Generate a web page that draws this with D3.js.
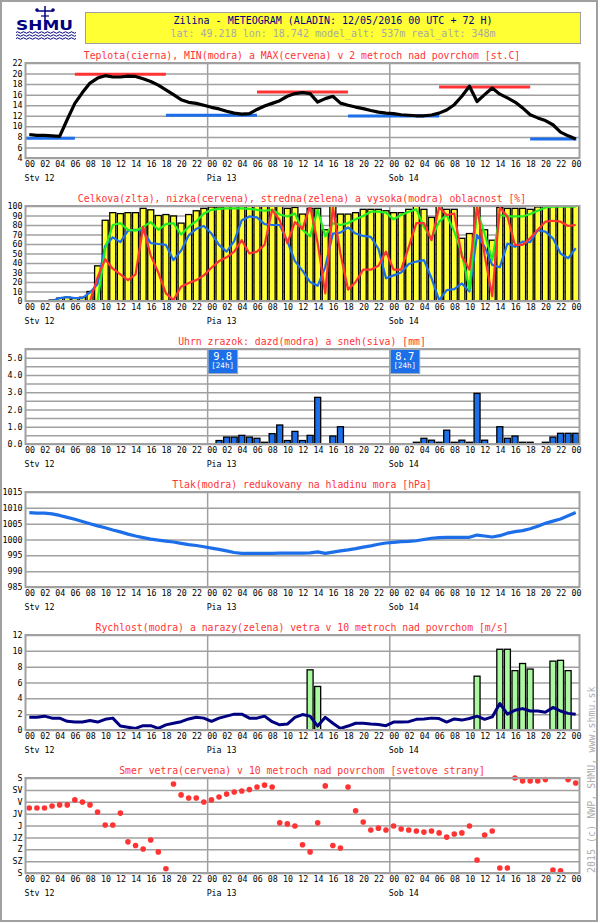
<!DOCTYPE html>
<html>
<head>
<meta charset="utf-8">
<script src="https://cdn.jsdelivr.net/npm/d3@7"></script>
<style>
  body { margin: 0; background: #fff; }
  text { font-family: "DejaVu Sans Mono", monospace; }
</style>
</head>
<body>
<div id="meteogram"></div>
<script>
// DATA
// ------------------------------------------------------------------

// hourly steps 0..72 from 12/05/2016 00 UTC
var hours = d3.range(73);
var hourTicks = d3.range(0, 73, 2);
var dayStarts = [0, 24, 48];
var dayLabels = ["Stv 12", "Pia 13", "Sob 14"];

var temperature = [8.45, 8.3, 8.3, 8.2, 8.1, 11.3, 14.35, 16.4, 18.2, 19.15,
  19.6, 19.35, 19.35, 19.5, 19.45, 19.0, 18.5, 17.8, 16.9, 16.0,
  15.05, 14.55, 14.35, 14.0, 13.6, 13.3, 12.85, 12.5, 12.3, 12.4,
  13.2, 13.85, 14.35, 14.85, 15.7, 16.2, 16.4, 16.2, 14.6, 15.25,
  15.7, 14.4, 14.0, 13.65, 13.35, 13.0, 12.7, 12.5, 12.4, 12.2,
  12.1, 12.0, 12.0, 12.15, 12.5, 13.1, 14.1, 15.7, 17.6, 14.7,
  16.0, 17.25, 16.1, 15.4, 14.6, 13.5, 12.2, 11.6, 11.1, 10.3,
  8.9, 8.2, 7.6];
var tMinPeriods = [[0, 6.5], [18.5, 30.5], [42.5, 54.5], [66.5, 72.6]];
var tMinValues = [7.75, 12.1, 11.95, 7.6];
var tMaxPeriods = [[6.5, 18.5], [30.5, 42.5], [54.5, 66.5]];
var tMaxValues = [19.85, 16.5, 17.45];

var cloudTotal = [0, 0, 0, 1, 3, 4, 3, 4, 10, 37,
  85, 93, 92, 93, 93, 97.5, 96, 90, 91, 89.5,
  82, 91, 95, 97.5, 99, 99, 100, 100, 100, 100,
  100, 100, 100, 100, 97.5, 98.5, 91.5, 97.5, 97.5, 75,
  100, 91.5, 91.5, 93, 96.5, 96.5, 96.5, 95, 93, 93,
  96.5, 100, 96.5, 88, 100, 96.5, 96.5, 66, 71, 100,
  75, 64, 98.5, 97.5, 97.5, 97.5, 96.5, 99, 100, 100,
  100, 100, 100];
var cloudLow = [null, null, null, null, null, null, null, null, 0, 25,
  44, 34, 28, 22, 28, 78, 48, 30, 8, 1,
  15, 19, 22, 27, 35, 42, 46, 52, 64, 50,
  52, 59, 96, 85, 61, 83, 76, 100, 61, 8,
  99, 50, 12, 20, 33, 33, 37, 52, 33, 33,
  57, 82, 82, 64, 98.5, 90.5, 92, 47, 33, 100,
  48, 5, 98.5, 89, 59, 59, 66, 75, 83.5, 84.5,
  83.5, 79, 80];
var cloudMid = [null, null, null, null, null, null, null, null, null, 0,
  55, 80, 82, 75, 74, 78, 83, 75, 81, 82,
  70, 78, 84, 92, 96, 97, 97.5, 97.5, 97.5, 97,
  96, 95, 96, 91, 89, 92, 75, 68, 96, 68,
  82, 80, 82, 86, 89.5, 94, 94, 93, 86, 90.5,
  94, 96.5, 78, 66, 83.5, 90.5, 73, 50, 12, 96,
  71, 43, 90.5, 89, 89, 89, 91.5, 95, 98.5, 99.3,
  99.3, 99.3, 99.3];
var cloudHigh = [null, null, null, 0, 3, 4, 3, 3, 9, 18,
  58, 67, 62, 74, 75, 74, 61, 60, 59, 43,
  53, 69, 76, 79, 71, 59, 52, 63, 85, 89,
  88, 81, 80, 80, 63, 42, 32, 20, 16, 36,
  71, 72, 77.5, 71, 68.5, 67.5, 55, 24, 27, 30,
  39, 41.5, 43, 24, 1, 11.5, 12.5, 18.5, 10, 69.5,
  57, 38, 35.5, 60.5, 57, 62.5, 62, 74.5, 73, 66,
  50, 45, 55.5];

var rain = [0, 0, 0, 0, 0, 0, 0, 0, 0, 0,
  0, 0, 0, 0, 0, 0, 0, 0, 0, 0,
  0, 0, 0, 0, 0, 0.2, 0.4, 0.4, 0.5, 0.4,
  0.33, 0.1, 0.6, 1.1, 0.2, 0.73, 0.2, 0.5, 2.7, 0,
  0.46, 1.0, 0, 0, 0, 0, 0, 0, 0, 0,
  0, 0.1, 0.33, 0.22, 0.1, 0.8, 0.1, 0.22, 0.1, 2.93,
  0.22, 0, 1.0, 0.33, 0.46, 0.1, 0.1, 0, 0.1, 0.4,
  0.62, 0.62, 0.62];
var rain24Starts = [24, 48];
var rain24Labels = ["9.8", "8.7"];

var pressure = [1008.5, 1008.3, 1008.3, 1008.1, 1007.6, 1007.0, 1006.4, 1005.7, 1005.0, 1004.3,
  1003.7, 1003.0, 1002.4, 1001.7, 1001.1, 1000.6, 1000.1, 999.8, 999.5, 999.2,
  998.8, 998.4, 998.1, 997.7, 997.3, 996.9, 996.4, 995.9, 995.6, 995.6,
  995.6, 995.6, 995.6, 995.7, 995.7, 995.7, 995.7, 995.8, 996.1, 995.6,
  996.0, 996.4, 996.7, 997.1, 997.6, 998.0, 998.5, 998.9, 999.1, 999.3,
  999.4, 999.6, 1000.0, 1000.4, 1000.6, 1000.7, 1000.7, 1000.7, 1000.7, 1001.4,
  1001.1, 1000.8, 1001.2, 1002.0, 1002.5, 1002.8, 1003.4, 1004.2, 1005.1, 1005.8,
  1006.5, 1007.5, 1008.5];

var windSpeed = [1.6, 1.6, 1.75, 1.5, 1.5, 1.1, 1.0, 1.0, 1.2, 1.0,
  1.35, 1.5, 0.5, 0.35, 0.2, 0.55, 0.55, 0.2, 0.65, 0.85,
  1.05, 1.4, 1.6, 1.5, 1.1, 1.5, 1.75, 2.0, 2.0, 1.5,
  1.5, 1.75, 1.05, 0.65, 0.75, 1.6, 1.95, 1.75, 0.5, 1.6,
  0.85, 0.2, 0.5, 0.85, 0.85, 0.75, 0.7, 0.55, 1.0, 1.0,
  1.05, 1.35, 1.4, 1.5, 1.45, 1.0, 1.4, 1.25, 1.45, 1.75,
  1.35, 1.65, 3.35, 2.0, 2.5, 2.7, 2.4, 2.4, 2.25, 2.85,
  2.4, 2.1, 2.0];
var gustHours = [37, 38, 59, 62, 63, 64, 65, 66, 69, 70, 71];
var gustValues = [7.6, 5.5, 6.8, 10.2, 10.2, 7.5, 8.4, 7.7, 8.7, 8.8, 7.5];

var windDir = [113.7, 113.7, 113.7, 106, 102, 102, 83, 91, 102, 129,
  178, 178, 133, 242, 256, 269, 235, 280, 344, 23,
  64, 76, 76, 91, 83, 72, 61, 53, 49, 44,
  34, 27, 34, 170, 174, 182, 253, 280, 170, 30,
  256, 265, 34, 124, 167, 197, 190, 197, 182, 193,
  197, 201, 205, 201, 208, 224, 212, 208, 182, 311,
  216, 201, 341, 341, 0, 11, 11, 11, 6, 349,
  352, 6, 19];
var dirTicks = [0, 45, 90, 135, 180, 225, 270, 315, 360];
var dirLabels = ["S", "SV", "V", "JV", "J", "JZ", "Z", "SZ", "S"];

var titles = [
  "Teplota(cierna), MIN(modra) a MAX(cervena) v 2 metroch nad povrchom [st.C]",
  "Celkova(zlta), nizka(cervena), stredna(zelena) a vysoka(modra) oblacnost [%]",
  "Uhrn zrazok: dazd(modra) a sneh(siva) [mm]",
  "Tlak(modra) redukovany na hladinu mora [hPa]",
  "Rychlost(modra) a narazy(zelena) vetra v 10 metroch nad povrchom [m/s]",
  "Smer vetra(cervena) v 10 metroch nad povrchom [svetove strany]"
];

// CANVAS
// ------------------------------------------------------------------

var width = 600,
    height = 923,
    plotH = 95;

var RED = "#ff3333", BLUE = "#1c6fe8", GREEN = "#22ee22",
    YELLOW = "#ffff33", NAVY = "#000080", GRID = "#a0a0a0";

var svg = d3.select("#meteogram")
    .append("svg")
    .attr("width", width)
    .attr("height", height);

svg.append("rect")
    .attr("x", 1).attr("y", 1)
    .attr("width", 596).attr("height", 920)
    .attr("fill", "none")
    .attr("stroke", GRID)
    .attr("stroke-width", 2);

var x = d3.scaleLinear()
    .domain([0, 73])
    .range([25.5, 579.5]);
var stepW = x(1) - x(0);

// HEADER
// ------------------------------------------------------------------

var logo = svg.append("g").attr("fill", NAVY).attr("stroke", NAVY);
logo.append("line").attr("x1", 45).attr("y1", 6).attr("x2", 45).attr("y2", 21).attr("stroke-width", 1.5);
logo.append("line").attr("x1", 37).attr("y1", 11).attr("x2", 53).attr("y2", 11).attr("stroke-width", 1.5);
logo.append("line").attr("x1", 41).attr("y1", 16).attr("x2", 49).attr("y2", 16).attr("stroke-width", 1.2);
logo.append("circle").attr("cx", 37).attr("cy", 10).attr("r", 1.8).attr("stroke", "none");
logo.append("circle").attr("cx", 53).attr("cy", 10).attr("r", 1.8).attr("stroke", "none");
logo.append("text")
    .attr("x", 16).attr("y", 30)
    .attr("stroke", "none")
    .style("font-family", "DejaVu Sans")
    .style("font-weight", "bold")
    .style("font-size", "14px")
    .attr("textLength", 57)
    .attr("lengthAdjust", "spacingAndGlyphs")
    .text("SHMU");
[32.5, 35.5, 38.5].forEach(function(wy) {
  var d = "M16," + wy;
  for (var wx = 16; wx < 72; wx += 6) d += " q1.5,-1.5 3,0 t3,0";
  logo.append("path").attr("d", d).attr("fill", "none").attr("stroke-width", 1);
});

svg.append("rect")
    .attr("x", 85.5).attr("y", 12.5)
    .attr("width", 495).attr("height", 31)
    .attr("fill", YELLOW)
    .attr("stroke", GRID);
svg.append("text")
    .attr("x", 333).attr("y", 24)
    .attr("text-anchor", "middle")
    .attr("fill", NAVY)
    .style("font-size", "10px")
    .text("Zilina - METEOGRAM (ALADIN: 12/05/2016 00 UTC + 72 H)");
svg.append("text")
    .attr("x", 333).attr("y", 37)
    .attr("text-anchor", "middle")
    .attr("fill", "#a8a8a8")
    .style("font-size", "10px")
    .text("lat: 49.218  lon: 18.742  model_alt: 537m  real_alt: 348m");

svg.append("text")
    .attr("transform", "translate(595,873) rotate(-90)")
    .attr("fill", "#b0b0b0")
    .style("font-size", "10px")
    .text("2015 (c) NWP, SHMU, www.shmu.sk");

// PANELS
// ------------------------------------------------------------------

function makePanel(top, domain, gridVals, labelVals, labelFmt, title) {
  var g = svg.append("g");
  var bottom = top + plotH;
  var y = d3.scaleLinear().domain(domain).range([bottom, top]);

  g.append("g")
      .attr("transform", "translate(" + x(0) + ",0)")
      .call(d3.axisLeft(y).tickValues(gridVals).tickSize(-(x(73) - x(0))).tickFormat(""))
      .call(function(s) {
        s.select(".domain").remove();
        s.selectAll("line").attr("stroke", GRID).attr("stroke-width", 1.5);
      });

  g.selectAll(".day")
      .data(dayStarts.slice(1))
      .enter().append("line")
      .attr("x1", function(d) { return x(d); })
      .attr("x2", function(d) { return x(d); })
      .attr("y1", top).attr("y2", bottom)
      .attr("stroke", GRID).attr("stroke-width", 1.5);

  g.append("g")
      .attr("transform", "translate(" + (x(0) - 3) + ",0)")
      .call(d3.axisLeft(y).tickValues(labelVals).tickSize(0).tickPadding(0).tickFormat(labelFmt))
      .call(function(s) {
        s.select(".domain").remove();
        s.selectAll("text").attr("fill", "#000")
          .style("font-family", "DejaVu Sans Mono").style("font-size", "8.3px");
      });

  g.append("g")
      .attr("transform", "translate(0," + (bottom + 3) + ")")
      .call(d3.axisBottom(x).tickValues(hourTicks).tickSize(0).tickPadding(0)
        .tickFormat(function(d) { return d3.format("02d")(d % 24); }))
      .call(function(s) {
        s.select(".domain").remove();
        s.selectAll("text").attr("fill", "#000").attr("text-anchor", "start")
          .attr("dx", -1).attr("dy", "0.72em")
          .style("font-family", "DejaVu Sans Mono").style("font-size", "8.3px");
      });

  g.selectAll(".daylabel")
      .data(dayStarts)
      .enter().append("text")
      .attr("x", function(d) { return x(d) - 1; })
      .attr("y", bottom + 23)
      .style("font-size", "8.3px")
      .text(function(d, i) { return dayLabels[i]; });

  svg.append("text")
      .attr("x", 302).attr("y", top - 4.5)
      .attr("text-anchor", "middle")
      .attr("fill", RED)
      .style("font-size", "9.8px")
      .text(title);

  var layer = svg.append("g");
  var frame = function() {
    svg.append("rect")
        .attr("x", x(0)).attr("y", top)
        .attr("width", x(73) - x(0)).attr("height", plotH)
        .attr("fill", "none")
        .attr("stroke", GRID).attr("stroke-width", 2);
  };
  return { y: y, g: layer, frame: frame, top: top, bottom: bottom };
}

function hourLine(y) {
  return d3.line()
      .defined(function(d) { return d != null; })
      .x(function(d, i) { return x(i + 0.5); })
      .y(function(d) { return y(d); });
}

function hourBars(p, values, fill) {
  values.forEach(function(d, i) {
    if (!(d > 0)) return;
    p.g.append("rect")
        .attr("x", x(i) + 0.8)
        .attr("width", stepW - 1.6)
        .attr("y", p.y(d))
        .attr("height", p.bottom - p.y(d))
        .attr("fill", fill).attr("stroke", "#000").attr("stroke-width", 1.3);
  });
}

// TEMPERATURE
var p1 = makePanel(63, [4, 22], d3.range(4, 23, 2), d3.range(4, 23, 2), d3.format("d"), titles[0]);
p1.g.selectAll(".tmax").data(tMaxValues).enter().append("line")
    .attr("x1", function(d, i) { return x(tMaxPeriods[i][0]); })
    .attr("x2", function(d, i) { return x(tMaxPeriods[i][1]); })
    .attr("y1", function(d) { return p1.y(d); })
    .attr("y2", function(d) { return p1.y(d); })
    .attr("stroke", RED).attr("stroke-width", 3);
p1.g.selectAll(".tmin").data(tMinValues).enter().append("line")
    .attr("x1", function(d, i) { return x(tMinPeriods[i][0]); })
    .attr("x2", function(d, i) { return x(tMinPeriods[i][1]); })
    .attr("y1", function(d) { return p1.y(d); })
    .attr("y2", function(d) { return p1.y(d); })
    .attr("stroke", BLUE).attr("stroke-width", 3);
p1.g.append("path")
    .attr("d", hourLine(p1.y)(temperature))
    .attr("fill", "none").attr("stroke", "#000")
    .attr("stroke-width", 3.2).attr("stroke-linejoin", "round");
p1.frame();

// CLOUDS
var p2 = makePanel(206, [0, 100], d3.range(0, 101, 10), d3.range(0, 101, 10), d3.format("d"), titles[1]);
hourBars(p2, cloudTotal, YELLOW);
[[cloudHigh, BLUE], [cloudMid, GREEN], [cloudLow, RED]].forEach(function(s) {
  p2.g.append("path")
      .attr("d", hourLine(p2.y)(s[0]))
      .attr("fill", "none").attr("stroke", s[1])
      .attr("stroke-width", 2.2).attr("stroke-linejoin", "round");
});
p2.frame();

// PRECIPITATION
var p3 = makePanel(349, [0, 5.5], d3.range(0, 5.6, 0.5), d3.range(0, 5.1, 1), d3.format(".1f"), titles[2]);
hourBars(p3, rain, BLUE);
p3.frame();
rain24Starts.forEach(function(t, i) {
  var bx = x(t);
  svg.append("rect")
      .attr("x", bx + 0.5).attr("y", p3.top + 0.5)
      .attr("width", 29.5).attr("height", 24)
      .attr("fill", BLUE).attr("stroke", "#9ab").attr("stroke-width", 1);
  svg.append("text")
      .attr("x", bx + 15).attr("y", p3.top + 10.5)
      .attr("text-anchor", "middle").attr("fill", "#fff")
      .style("font-size", "10.5px")
      .text(rain24Labels[i]);
  svg.append("text")
      .attr("x", bx + 15).attr("y", p3.top + 18.5)
      .attr("text-anchor", "middle").attr("fill", "#fff")
      .style("font-size", "7.5px")
      .text("[24h]");
});

// PRESSURE
var p4 = makePanel(492, [985, 1015], d3.range(985, 1016, 5), d3.range(985, 1016, 5), d3.format("d"), titles[3]);
p4.g.append("path")
    .attr("d", hourLine(p4.y)(pressure))
    .attr("fill", "none").attr("stroke", BLUE)
    .attr("stroke-width", 3.2).attr("stroke-linejoin", "round");
p4.frame();

// WIND SPEED AND GUSTS
var p5 = makePanel(635, [0, 12], d3.range(0, 13, 2), d3.range(0, 13, 2), d3.format("d"), titles[4]);
p5.g.selectAll(".gust").data(gustValues).enter().append("rect")
    .attr("x", function(d, i) { return x(gustHours[i]) + 0.8; })
    .attr("width", stepW - 1.6)
    .attr("y", function(d) { return p5.y(d); })
    .attr("height", function(d) { return p5.bottom - p5.y(d); })
    .attr("fill", "#aaf8a0").attr("stroke", "#000").attr("stroke-width", 1.3);
p5.g.append("path")
    .attr("d", hourLine(p5.y)(windSpeed))
    .attr("fill", "none").attr("stroke", NAVY)
    .attr("stroke-width", 3).attr("stroke-linejoin", "round");
p5.frame();

// WIND DIRECTION
var p6 = makePanel(778, [360, 0], dirTicks, dirTicks, function(d, i) { return dirLabels[i]; }, titles[5]);
p6.g.selectAll(".dir").data(windDir).enter().append("circle")
    .attr("cx", function(d, i) { return x(i + 0.5); })
    .attr("cy", function(d) { return p6.y(d); })
    .attr("r", 2.8)
    .attr("fill", RED);
p6.frame();
</script>
</body>
</html>
